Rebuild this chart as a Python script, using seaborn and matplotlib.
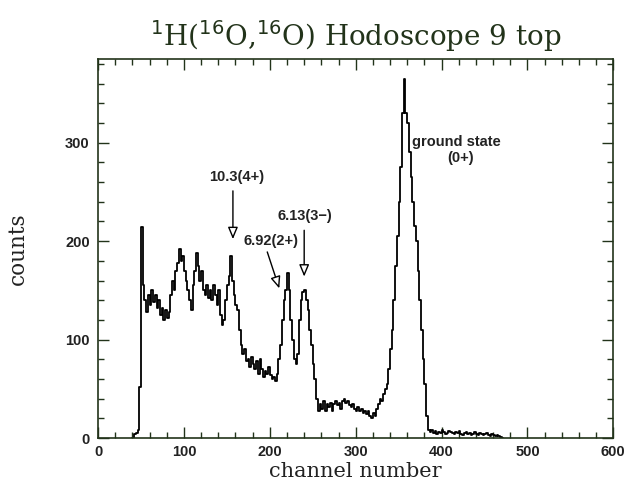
import numpy as np
import pandas as pd
import matplotlib
matplotlib.use("Agg")
import matplotlib.pyplot as plt
import seaborn as sns
from matplotlib.ticker import MultipleLocator

# ---- data (2-channel bins starting at channel 40) ----
bin_start = 40
bin_width = 2
counts = [
    0, 4, 5, 8, 52, 214, 155, 140, 128, 145,          # 40-58
    135, 150, 138, 145, 132, 140, 125, 132, 120, 130,  # 60-78
    122, 128, 145, 160, 150, 170, 178, 192, 180, 185,  # 80-98
    170, 160, 150, 140, 130, 155, 170, 188, 175, 160,  # 100-118
    170, 150, 145, 155, 142, 150, 140, 155, 145, 135,  # 120-138
    150, 125, 115, 120, 140, 155, 165, 185, 160, 145,  # 140-158
    135, 130, 110, 95, 85, 90, 78, 80, 72, 82,         # 160-178
    75, 70, 78, 65, 80, 70, 62, 68, 65, 72,            # 180-198
    64, 60, 62, 58, 65, 80, 95, 120, 140, 150,         # 200-218
    168, 150, 120, 100, 80, 75, 85, 120, 140, 148,     # 220-238
    150, 140, 130, 110, 95, 75, 60, 40, 28, 35,        # 240-258
    30, 38, 28, 35, 32, 36, 28, 35, 38, 34,            # 260-278
    36, 30, 38, 40, 36, 38, 34, 32, 35, 30,            # 280-298
    28, 32, 27, 30, 25, 28, 24, 28, 22, 20,            # 300-318
    25, 22, 30, 35, 40, 38, 45, 50, 55, 70,            # 320-338
    90, 110, 140, 175, 205, 240, 275, 330, 365, 330,   # 340-358
    320, 290, 265, 240, 215, 200, 170, 140, 110, 80,   # 360-378
    55, 22, 8, 6, 8, 5, 7, 4, 6, 5,                    # 380-398
    8, 6, 4, 5, 7, 6, 5, 4, 6, 5,                      # 400-418
    7, 4, 3, 5, 6, 4, 5, 3, 4, 6,                      # 420-438
    4, 3, 5, 4, 3, 4, 5, 3, 2, 4,                      # 440-458
    3, 2, 3, 2, 1, 0,                                  # 460-470
]
channels = np.arange(bin_start, bin_start + bin_width * len(counts), bin_width)
df = pd.DataFrame({"channel": channels + bin_width / 2, "counts": counts})

title = r"$^{1}$H($^{16}$O,$^{16}$O) Hodoscope 9 top"
xlabel = "channel number"
ylabel = "counts"

# peak labels: text, text centre, arrow tail, arrow tip (data coords)
ann_labels = ["10.3(4+)", "6.92(2+)", "6.13(3\u2212)"]
ann_text_xy = [(161, 265), (201, 200), (241, 225)]
ann_tail_xy = [(157, 251), (197, 189), (240, 211)]
ann_tip_xy = [(157, 202), (211, 152), (240, 164)]
gs_labels = ["ground state", "(0+)"]
gs_xy = [(365, 301), (422, 284)]

frame = "#22331a"
txtc = "#222222"
sans = ["Liberation Sans", "DejaVu Sans"]

sns.set_theme(style="ticks")
plt.rcParams["font.family"] = sans
fig = plt.figure(figsize=(6.29, 4.83), dpi=100)
ax = fig.add_axes([0.156, 0.093, 0.819, 0.785])

sns.histplot(data=df, x="channel", weights="counts",
             binwidth=bin_width,
             binrange=(bin_start, bin_start + bin_width * len(counts)),
             element="step", fill=False, color="black", linewidth=1.3, ax=ax)

ax.set_xlim(0, 600)
ax.set_ylim(0, 385)
ax.xaxis.set_major_locator(MultipleLocator(100))
ax.xaxis.set_minor_locator(MultipleLocator(20))
ax.yaxis.set_major_locator(MultipleLocator(100))
ax.yaxis.set_minor_locator(MultipleLocator(20))
ax.tick_params(which="both", direction="in", top=True, right=True,
               color=frame, width=1.0)
ax.tick_params(which="major", length=8, labelsize=10.5)
ax.tick_params(which="minor", length=4)
ax.tick_params(axis="x", which="major", pad=5)
ax.tick_params(axis="y", which="major", pad=6)
for lab in ax.get_xticklabels() + ax.get_yticklabels():
    lab.set_fontweight("bold")
    lab.set_color(txtc)
for sp in ax.spines.values():
    sp.set_color(frame)
    sp.set_linewidth(1.2)

ax.set_xlabel(xlabel, fontsize=15, family="DejaVu Serif", color=txtc)
ax.xaxis.set_label_coords(0.5, -0.064)
ax.set_ylabel(ylabel, fontsize=15.5, family="DejaVu Serif", color=txtc, labelpad=26)
ax.set_title(title, fontsize=20, family="DejaVu Serif", color=frame, pad=9)

for lab, txy, tail, tip in zip(ann_labels, ann_text_xy, ann_tail_xy, ann_tip_xy):
    ax.text(txy[0], txy[1], lab, ha="center", va="center",
            fontsize=10.5, fontweight="bold", color=txtc)
    ax.annotate("", xy=tip, xytext=tail,
                arrowprops=dict(arrowstyle="-|>,head_length=0.6,head_width=0.25",
                                fc="white", ec="black", lw=1.0,
                                shrinkA=0, shrinkB=0))

ax.text(gs_xy[0][0], gs_xy[0][1], gs_labels[0], fontsize=10.5, fontweight="bold",
        color=txtc, ha="left", va="center")
ax.text(gs_xy[1][0], gs_xy[1][1], gs_labels[1], fontsize=10.5, fontweight="bold",
        color=txtc, ha="center", va="center")

fig.savefig("out.png", dpi=100)
